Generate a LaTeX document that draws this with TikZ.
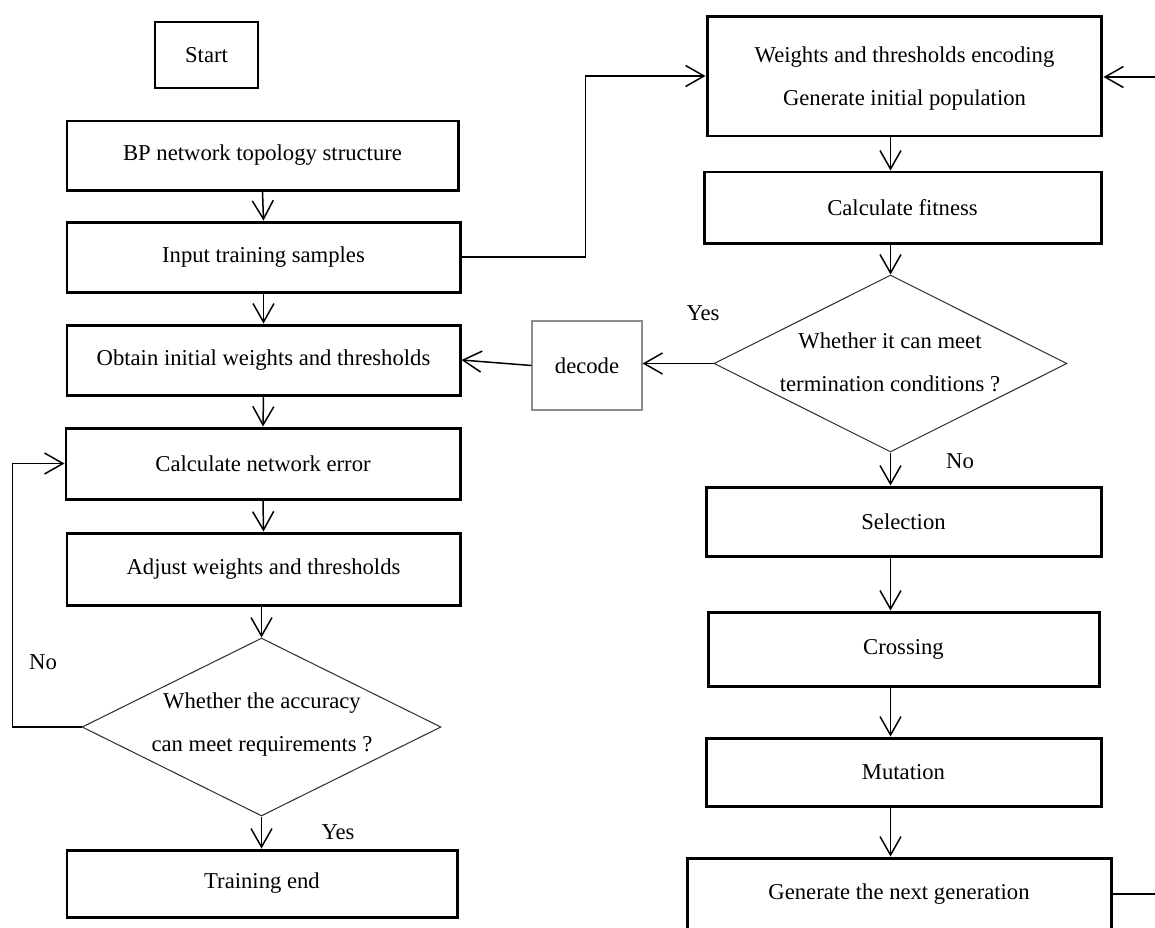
\documentclass[tikz,border=0pt]{standalone}
\usepackage{fontspec}
\setmainfont{Liberation Serif}
\usetikzlibrary{arrows.meta,shapes.geometric,calc}

\newcommand\fcfont{\fontsize{12.9}{24.5}\selectfont}

% box given by its corners (x1,y1)-(x2,y2)
\newcommand\fcnode[7]{%
  \pgfmathsetmacro\fcw{(#5-#3)*0.02}%
  \pgfmathsetmacro\fch{(#6-#4)*0.02}%
  \node[#1, minimum width=\fcw cm, minimum height=\fch cm] (#2) at ({(#3+#5)/2},{(#4+#6)/2}) {#7};}

\tikzset{
  fcbox/.style={draw=black, line width=1.7pt, rectangle, inner sep=0pt, align=center, font=\fcfont},
  thinbox/.style={draw=black!45, line width=0.6pt, rectangle, inner sep=0pt, align=center, font=\fcfont},
  decision/.style={diamond, draw=black!80, line width=0.6pt, inner sep=0pt},
  dtext/.style={align=center, font=\fcfont, inner sep=0pt},
  lbl/.style={font=\fcfont, inner sep=0pt},
  flow/.style={line width=0.85pt, -{Straight Barb[length=0.37cm,width=0.42cm,line width=0.85pt]}},
  plainline/.style={line width=0.85pt}
}

\begin{document}
\begin{tikzpicture}[x=0.02cm, y=-0.02cm]
\clip (0,0) rectangle (1155,927);
\fill[white] (0,0) rectangle (1155,927);

% left column: BP network training
\fcnode{fcbox}{start}{155}{22}{258}{88}{Start}
\fcnode{fcbox}{bp}{67}{121}{458}{190}{BP network topology structure}
\fcnode{fcbox}{input}{67}{222}{460}{292}{Input training samples}
\fcnode{fcbox}{obtain}{67}{325}{460}{395}{Obtain initial weights and thresholds}
\fcnode{fcbox}{neterr}{66}{428}{460}{499}{Calculate network error}
\fcnode{fcbox}{adjust}{67}{533}{460}{605}{Adjust weights and thresholds}
\node[decision, minimum width=7.18cm, minimum height=3.56cm] (dl) at (261.5,727) {};
\node[dtext] at (262,725) {Whether the accuracy\\can meet requirements ?};
\fcnode{fcbox}{trainend}{67}{850}{457}{917}{Training end}

% right column: genetic algorithm
\node[fcbox, minimum width=7.9cm, minimum height=2.4cm] (encode) at (904.5,76) {};
\node[dtext] at (904.5,79) {Weights and thresholds encoding\\Generate initial population};
\fcnode{fcbox}{fitness}{704}{172}{1101}{243}{Calculate fitness}
\node[decision, minimum width=7.06cm, minimum height=3.54cm] (dr) at (890.5,363.5) {};
\node[dtext] at (890,362.5) {Whether it can meet\\termination conditions ?};
\fcnode{thinbox}{decode}{532}{321}{642}{410}{decode}
\fcnode{fcbox}{selection}{706}{487}{1101}{556}{Selection}
\fcnode{fcbox}{crossing}{708}{612}{1099}{686}{Crossing}
\fcnode{fcbox}{mutation}{706}{738}{1101}{806}{Mutation}
\fcnode{fcbox}{nextgen}{687}{858}{1111}{930}{Generate the next generation}

% branch labels
\node[lbl] at (43,662) {No};
\node[lbl] at (338,832) {Yes};
\node[lbl] at (703,313) {Yes};
\node[lbl] at (960,461) {No};

% connectors, left column
\draw[flow] (bp.south) -- (input.north);
\draw[flow] (input.south) -- (obtain.north);
\draw[flow] (obtain.south) -- (neterr.north);
\draw[flow] (neterr.south) -- (adjust.north);
\draw[flow] (adjust.south -| dl.north) -- (dl.north);
\draw[flow] (dl.south) -- (trainend.north -| dl.south);
\draw[flow] (dl.west) -- ++(-69,0) |- (neterr.west);

% connectors, right column
\draw[flow] (input.east) -- ++(124,0) |- (encode.west);
\draw[flow] (encode.south -| dr.north) -- (fitness.north -| dr.north);
\draw[flow] (fitness.south -| dr.north) -- (dr.north);
\draw[flow] (dr.west) -- (decode.east |- dr.west);
\draw[flow] (decode.west) -- (obtain.east);
\draw[flow] (dr.south) -- (selection.north -| dr.south);
\draw[flow] (selection.south -| dr.south) -- (crossing.north -| dr.south);
\draw[flow] (crossing.south -| dr.south) -- (mutation.north -| dr.south);
\draw[flow] (mutation.south -| dr.south) -- (nextgen.north -| dr.south);

% loop back from the next generation to the encoding step
\coordinate (outR) at (1155,894);
\coordinate (inR) at (1155,77);
\draw[plainline] (nextgen.east |- outR) -- (outR);
\draw[flow] (inR) -- (encode.east |- inR);
\end{tikzpicture}
\end{document}
